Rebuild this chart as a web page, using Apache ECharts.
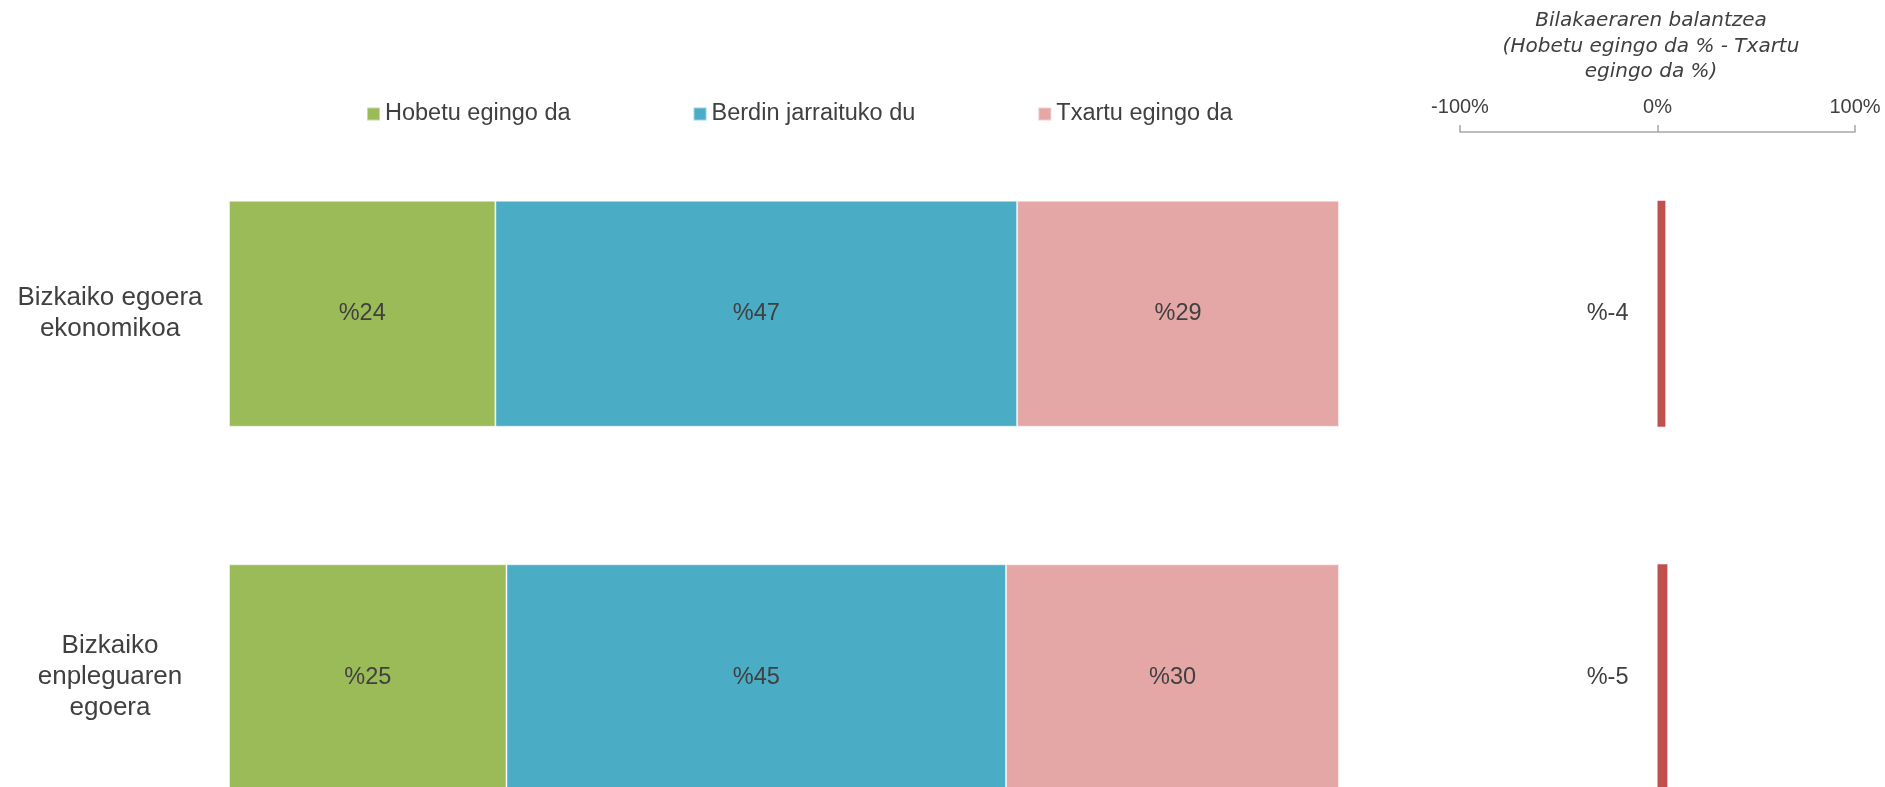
<!DOCTYPE html>
<html>
<head>
<meta charset="utf-8">
<title>Bizkaiko egoera</title>
<script src="https://cdn.jsdelivr.net/npm/echarts@6/dist/echarts.min.js"></script>
<style>
  html, body { margin: 0; padding: 0; background: #fff; }
  #chart { width: 1885px; height: 787px; }
</style>
</head>
<body>
<div id="chart"></div>
<script>
  // datuak
  var categories = ['Bizkaiko egoera\nekonomikoa', 'Bizkaiko\nenpleguaren\negoera']
  var seriesNames = ['Hobetu egingo da', 'Berdin jarraituko du', 'Txartu egingo da']
  var hobetu = [24, 25]
  var berdin = [47, 45]
  var txartu = [29, 30]
  var balantzea = [-4, -5]
  var balanceTitle = 'Bilakaeraren balantzea\n(Hobetu egingo da % - Txartu\negingo da %)'

  var colors = ['#9BBB59', '#4BACC6', '#E5A6A6']
  var textColor = '#404040'
  var font = "'Liberation Sans', Arial, sans-serif"

  var chart = echarts.init(document.getElementById('chart'))

  function stackSeries(name, data, color) {
    return {
      name: name,
      type: 'bar',
      stack: 'total',
      xAxisIndex: 0,
      yAxisIndex: 0,
      barWidth: 226,
      data: data,
      itemStyle: { color: color, borderColor: 'rgba(255,255,255,0.45)', borderWidth: 1 },
      label: {
        show: true,
        position: 'inside',
        color: textColor,
        fontFamily: font,
        fontSize: 23.5,
        formatter: function (p) { return '%' + p.value }
      }
    }
  }

  chart.setOption({
    animation: false,
    textStyle: { fontFamily: font },
    legend: {
      data: seriesNames,
      left: 361,
      top: 97,
      icon: 'rect',
      itemWidth: 13,
      itemHeight: 13,
      itemGap: 122,
      textStyle: { color: textColor, fontSize: 23.5, fontFamily: font }
    },
    graphic: [{
      type: 'text',
      x: 1651,
      y: 46.5,
      style: {
        text: balanceTitle,
        align: 'center',
        verticalAlign: 'middle',
        fontFamily: "'DejaVu Sans', sans-serif",
        fontStyle: 'italic',
        fontSize: 20,
        lineHeight: 25.5,
        fill: textColor
      }
    }],
    // bigarren barra irudiaren behealdetik kanpo doa
    grid: [
      { left: 229, right: 546, top: 132, bottom: -72, outerBoundsMode: 'none' }, // barra metatuak
      { left: 1460, right: 30, top: 132, bottom: -72, outerBoundsMode: 'none' }  // balantzea
    ],
    xAxis: [
      { gridIndex: 0, type: 'value', min: 0, max: 100, show: false },
      {
        gridIndex: 1,
        type: 'value',
        position: 'top',
        min: -100,
        max: 100,
        interval: 100,
        inverse: true,
        axisLine: { show: true, lineStyle: { color: '#a6a6a6', width: 1.5 } },
        axisTick: { show: true, length: 7, lineStyle: { color: '#a6a6a6', width: 1.5 } },
        splitLine: { show: false },
        axisLabel: {
          margin: 15,
          fontSize: 20,
          color: textColor,
          fontFamily: font,
          formatter: function (v) { return (-v) + '%' }
        }
      }
    ],
    yAxis: [
      {
        gridIndex: 0,
        type: 'category',
        data: categories,
        inverse: true,
        axisLine: { show: false },
        axisTick: { show: false },
        axisLabel: {
          align: 'center',
          margin: 119,
          fontSize: 26,
          lineHeight: 31,
          color: textColor,
          fontFamily: font
        }
      },
      { gridIndex: 1, type: 'category', data: categories, inverse: true, show: false }
    ],
    series: [
      stackSeries(seriesNames[0], hobetu, colors[0]),
      stackSeries(seriesNames[1], berdin, colors[1]),
      stackSeries(seriesNames[2], txartu, colors[2]),
      {
        name: 'Balantzea',
        type: 'bar',
        xAxisIndex: 1,
        yAxisIndex: 1,
        barWidth: 226,
        data: balantzea,
        itemStyle: { color: '#C0504D' },
        label: {
          show: true,
          position: 'left',
          distance: 29,
          color: textColor,
          fontFamily: font,
          fontSize: 23.5,
          formatter: function (p) { return '%' + p.value }
        }
      }
    ]
  })
</script>
</body>
</html>
